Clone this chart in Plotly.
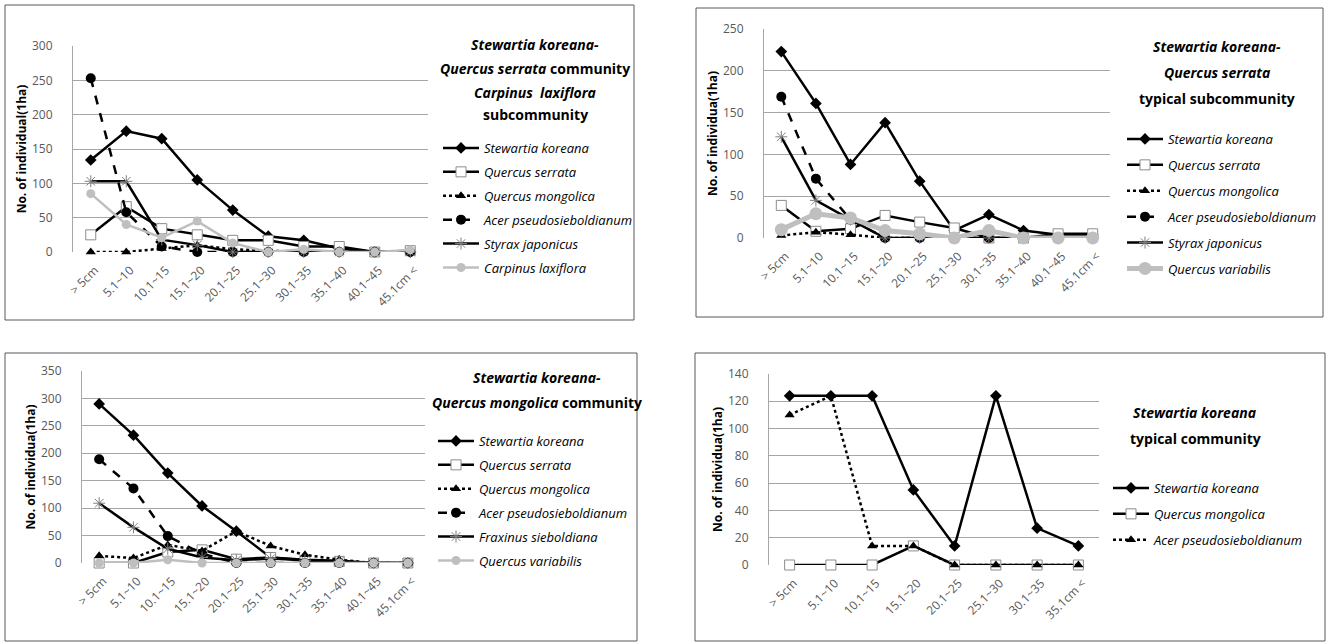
import plotly.graph_objects as go

W, H = 1330, 642

# ---------------- data ----------------
cats10 = ["> 5cm", "5.1~10", "10.1~15", "15.1~20", "20.1~25", "25.1~30",
          "30.1~35", "35.1~40", "40.1~45", "45.1cm <"]
cats8 = ["> 5cm", "5.1~10", "10.1~15", "15.1~20", "20.1~25", "25.1~30",
         "30.1~35", "35.1cm <"]

# Panel 1: Stewartia koreana - Quercus serrata community, Carpinus laxiflora subcommunity
p1_stewartia = [134, 176, 165, 105, 61, 23, 17, 5, 0, 0]
p1_serrata = [25, 66, 34, 25, 17, 17, 8, 8, 0, 2]
p1_mongolica = [0, 0, 5, 10, 4, 2, 0, 0, 0, 0]
p1_acer = [253, 58, 8, 0, 0, 0, 0, 0, 0, 0]
p1_styrax = [103, 103, 18, 10, 0, 0, 0, 0, 0, 0]
p1_carpinus = [85, 40, 21, 45, 13, 0, 4, 0, 0, 3]

# Panel 2: Stewartia koreana - Quercus serrata typical subcommunity
p2_stewartia = [223, 161, 88, 138, 68, 9, 28, 9, 4, 4]
p2_serrata = [39, 8, 11, 27, 19, 12, 0, 0, 5, 5]
p2_mongolica = [3, 7, 4, 0, 0, 0, 0, 0, 0, 0]
p2_acer = [169, 71, 22, 0, 0, 0, 0, 0, 0, 0]
p2_styrax = [121, 45, 22, 0, 0, 0, 0, 0, 0, 0]
p2_variabilis = [10, 29, 24, 9, 5, 0, 9, 0, 0, 0]

# Panel 3: Stewartia koreana - Quercus mongolica community
p3_stewartia = [290, 233, 164, 104, 58, 10, 6, 4, 0, 0]
p3_serrata = [0, 0, 20, 24, 7, 10, 5, 3, 0, 0]
p3_mongolica = [13, 9, 33, 22, 58, 31, 15, 6, 0, 0]
p3_acer = [189, 136, 49, 17, 0, 0, 0, 0, 0, 0]
p3_fraxinus = [109, 65, 26, 10, 5, 8, 5, 3, 0, 0]
p3_variabilis = [0, 0, 6, 0, 0, 0, 0, 0, 0, 0]

# Panel 4: Stewartia koreana typical community
p4_stewartia = [124, 124, 124, 55, 14, 124, 27, 14]
p4_mongolica = [0, 0, 0, 14, 0, 0, 0, 0]
p4_acer = [110, 124, 14, 14, 0, 0, 0, 0]

# ---------------- styles ----------------
FONT = "Open Sans"
GRID = "#a6a6a6"
TICKC = "#595959"

STY = {
    "diamond": dict(line=dict(color="black", width=2.5),
                    marker=dict(symbol="diamond", size=9, color="black")),
    "square": dict(line=dict(color="black", width=2.5),
                   marker=dict(symbol="square", size=10, color="white",
                               line=dict(color="#8c8c8c", width=1))),
    "triangle": dict(line=dict(color="black", width=2.5, dash="dot"),
                     marker=dict(symbol="triangle-up", size=9, color="black")),
    "circle": dict(line=dict(color="black", width=2.5, dash="dash"),
                   marker=dict(symbol="circle", size=10, color="black")),
    "star": dict(line=dict(color="black", width=2.5),
                 marker=dict(symbol="asterisk-open", size=10, color="#7f7f7f",
                             line=dict(color="#7f7f7f", width=1))),
    "gray": dict(line=dict(color="#bfbfbf", width=2.5),
                 marker=dict(symbol="circle", size=9, color="#bfbfbf")),
    "graythick": dict(line=dict(color="#bfbfbf", width=5),
                      marker=dict(symbol="circle", size=13, color="#bfbfbf")),
}

fig = go.Figure()


def px_x(p):
    return p / W


def px_y(p):
    return 1 - p / H


panels = [
    dict(idx=1, cats=cats10, ymax=300, dtick=50, box=(5, 5, 634, 320),
         plot=(73, 46, 428, 252), ytitle="No. of individual(1ha)",
         series=[("Stewartia koreana", p1_stewartia, "diamond"),
                 ("Quercus serrata", p1_serrata, "square"),
                 ("Quercus mongolica", p1_mongolica, "triangle"),
                 ("Acer pseudosieboldianum", p1_acer, "circle"),
                 ("Styrax japonicus", p1_styrax, "star"),
                 ("Carpinus laxiflora", p1_carpinus, "gray")],
         legend=(438, 133, 4),
         title=[("<b><i>Stewartia koreana-</i></b>", 45),
                ("<b><i>Quercus serrata</i> community</b>", 68),
                ("<b><i>Carpinus  laxiflora</i></b>", 92),
                ("<b>subcommunity</b>", 115)], tx=535),
    dict(idx=2, cats=cats10, ymax=250, dtick=50, box=(696, 8, 1323, 317),
         plot=(764, 29, 1110, 238), ytitle="No. of individua(1ha)",
         series=[("Stewartia koreana", p2_stewartia, "diamond"),
                 ("Quercus serrata", p2_serrata, "square"),
                 ("Quercus mongolica", p2_mongolica, "triangle"),
                 ("Acer pseudosieboldianum", p2_acer, "circle"),
                 ("Styrax japonicus", p2_styrax, "star"),
                 ("Quercus variabilis", p2_variabilis, "graythick")],
         legend=(1122, 124, 6),
         title=[("<b><i>Stewartia koreana-</i></b>", 47),
                ("<b><i>Quercus serrata</i></b>", 72),
                ("<b>typical subcommunity</b>", 98)], tx=1217),
    dict(idx=3, cats=cats10, ymax=350, dtick=50, box=(5, 353, 637, 641),
         plot=(82, 371, 425, 563), ytitle="No. of individua(1ha)",
         series=[("Stewartia koreana", p3_stewartia, "diamond"),
                 ("Quercus serrata", p3_serrata, "square"),
                 ("Quercus mongolica", p3_mongolica, "triangle"),
                 ("Acer pseudosieboldianum", p3_acer, "circle"),
                 ("Fraxinus sieboldiana", p3_fraxinus, "star"),
                 ("Quercus variabilis", p3_variabilis, "gray")],
         legend=(433, 426, 4),
         title=[("<b><i>Stewartia koreana-</i></b>", 378),
                ("<b><i>Quercus mongolica</i> community</b>", 402)], tx=537),
    dict(idx=4, cats=cats8, ymax=140, dtick=20, box=(695, 353, 1325, 641),
         plot=(769, 374, 1099, 565), ytitle="No. of individua(1ha)",
         series=[("Stewartia koreana", p4_stewartia, "diamond"),
                 ("Quercus mongolica", p4_mongolica, "square"),
                 ("Acer pseudosieboldianum", p4_acer, "triangle")],
         legend=(1108, 473, 6),
         title=[("<b><i>Stewartia koreana</i></b>", 412),
                ("<b>typical community</b>", 438)], tx=1195),
]

layout = dict(
    width=W, height=H, margin=dict(l=0, r=0, t=0, b=0, autoexpand=False),
    paper_bgcolor="white", plot_bgcolor="white",
    font=dict(family=FONT, size=12, color="black"),
    showlegend=True,
)
shapes = []
annotations = []

for p in panels:
    i = p["idx"]
    sfx = "" if i == 1 else str(i)
    xa, ya = "x" + sfx, "y" + sfx
    lg = "legend" + sfx
    for name, vals, sty in p["series"]:
        st = STY[sty]
        fig.add_trace(go.Scatter(
            x=p["cats"], y=vals, name="<i>" + name + "</i>",
            mode="lines+markers",
            line=st["line"], marker=st["marker"], xaxis=xa, yaxis=ya,
            legend=lg, legendgroup=f"{i}-{name}", cliponaxis=False,
        ))
    l, t, r, b = p["plot"]
    layout["xaxis" + sfx] = dict(
        domain=[px_x(l), px_x(r)], anchor=ya, type="category",
        range=[-0.5, len(p["cats"]) - 0.5], tickangle=-45, automargin=False,
        showgrid=False, showline=False, zeroline=False, ticks="",
        ticklabelstandoff=8, ticklabelshift=4,
        tickfont=dict(family=FONT, size=12, color=TICKC),
        categoryorder="array", categoryarray=p["cats"],
    )
    layout["yaxis" + sfx] = dict(
        domain=[px_y(b), px_y(t)], anchor=xa, range=[0, p["ymax"]],
        dtick=p["dtick"], showgrid=True, gridcolor=GRID, gridwidth=1,
        showline=True, linecolor=GRID, linewidth=1, zeroline=False,
        ticks="", ticklabelstandoff=17, automargin=False,
        tickfont=dict(family=FONT, size=12, color=TICKC),
        title=dict(text="<b>" + p["ytitle"] + "</b>", standoff=2,
                   font=dict(family=FONT, size=12, color="black")),
    )
    lx, ly, gap = p["legend"]
    layout[lg] = dict(
        x=px_x(lx), y=px_y(ly), xanchor="left", yanchor="top",
        xref="paper", yref="paper", bgcolor="rgba(0,0,0,0)", borderwidth=0,
        font=dict(family=FONT, size=13, color="black"),
        traceorder="grouped", tracegroupgap=gap, itemwidth=36,
    )
    # outer chart box
    bl, bt, br, bb = p["box"]
    shapes.append(dict(type="rect", xref="paper", yref="paper",
                       x0=px_x(bl), x1=px_x(br), y0=px_y(bb), y1=px_y(bt),
                       line=dict(color="#595959", width=1)))
    for text, yy in p["title"]:
        annotations.append(dict(text=text, x=px_x(p["tx"]), y=px_y(yy),
                                xref="paper", yref="paper", showarrow=False,
                                xanchor="center", yanchor="middle",
                                font=dict(family=FONT, size=14, color="black")))

layout["shapes"] = shapes
layout["annotations"] = annotations
fig.update_layout(**layout)
fig.write_html("out.html", config={"displayModeBar": False},
               post_script="document.body.style.margin='0';"
                           "document.body.style.overflow='hidden';")
